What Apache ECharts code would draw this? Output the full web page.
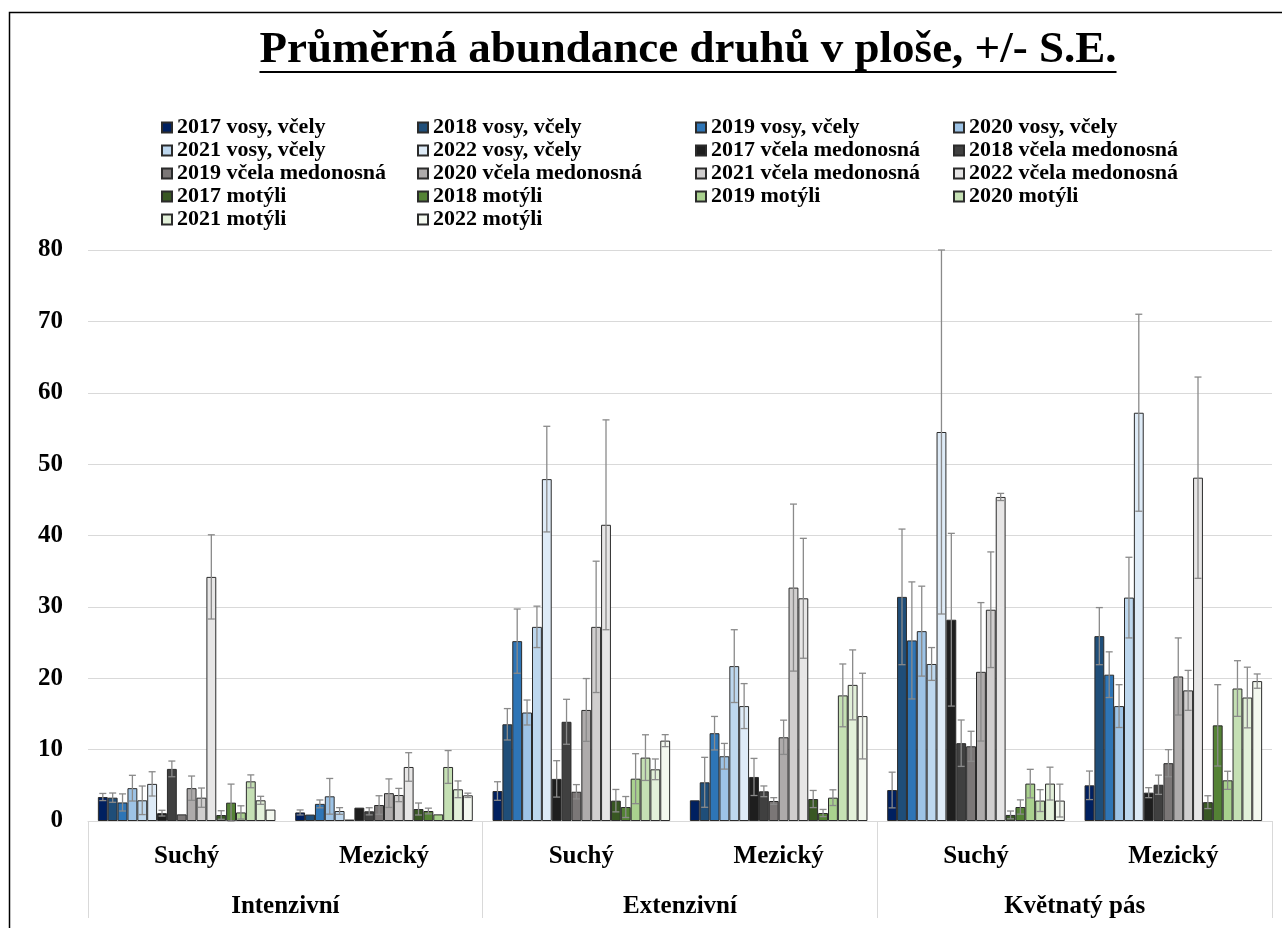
<!DOCTYPE html>
<html lang="cs">
<head>
<meta charset="utf-8">
<title>Průměrná abundance druhů v ploše</title>
<script src="https://cdn.jsdelivr.net/npm/echarts@6/dist/echarts.min.js"></script>
<style>
  html, body { margin: 0; padding: 0; background: #fff; }
  #chart { width: 1282px; height: 928px; }
</style>
</head>
<body>
<div id="chart"></div>
<script>
// Sites (inner level) and management types (outer level)
const sites = ['Suchý', 'Mezický', 'Suchý', 'Mezický', 'Suchý', 'Mezický'];
const managements = ['Intenzivní', 'Extenzivní', 'Květnatý pás'];
const yTicks = { min: 0, max: 80, step: 10 };

// Mean abundance per series, in site order:
// Intenzivní Suchý, Intenzivní Mezický, Extenzivní Suchý, Extenzivní Mezický, Květnatý pás Suchý, Květnatý pás Mezický
const vosy2017 = [3.36, 1.2, 4.2, 2.9, 4.34, 5.0];
const vosy2018 = [3.27, 0.9, 13.55, 5.42, 31.4, 25.9];
const vosy2019 = [2.6, 2.4, 25.2, 12.3, 25.3, 20.5];
const vosy2020 = [4.6, 3.46, 15.2, 9.07, 26.6, 16.1];
const vosy2021 = [2.9, 1.4, 27.2, 21.7, 22.0, 31.3];
const vosy2022 = [5.2, 0.2, 47.9, 16.1, 54.5, 57.2];
const medo2017 = [1.1, 1.87, 5.9, 6.17, 28.2, 3.97];
const medo2018 = [7.3, 1.36, 13.9, 4.16, 10.9, 5.08];
const medo2019 = [0.93, 2.24, 4.1, 2.8, 10.47, 8.1];
const medo2020 = [4.6, 3.9, 15.56, 11.73, 20.9, 20.25];
const medo2021 = [3.27, 3.64, 27.2, 32.7, 29.6, 18.3];
const medo2022 = [34.2, 7.57, 41.5, 31.2, 45.4, 48.1];
const mot2017 = [0.84, 1.68, 2.85, 3.08, 0.85, 2.64];
const mot2018 = [2.57, 1.4, 1.96, 1.12, 1.96, 13.4];
const mot2019 = [1.2, 0.93, 5.93, 3.27, 5.24, 5.7];
const mot2020 = [5.56, 7.57, 8.88, 17.6, 2.86, 18.56];
const mot2021 = [2.9, 4.44, 7.24, 19.07, 5.24, 17.3];
const mot2022 = [1.6, 3.6, 11.26, 14.7, 2.86, 19.6];

// Standard errors (null = no error bar)
const vosy2017SE = [0.5, 0.35, 1.3, null, 2.5, 2.0];
const vosy2018SE = [0.65, null, 2.2, 3.5, 9.5, 4.0];
const vosy2019SE = [1.2, 0.55, 4.5, 2.35, 8.2, 3.2];
const vosy2020SE = [1.8, 2.5, 1.75, 1.8, 6.3, 3.0];
const vosy2021SE = [2.0, 0.47, 2.9, 5.1, 2.3, 5.65];
const vosy2022SE = [1.7, null, 7.4, 3.15, 25.5, 13.8];
const medo2017SE = [0.4, null, 2.55, 2.6, 12.1, 0.7];
const medo2018SE = [1.1, 0.5, 3.15, 0.75, 3.25, 1.35];
const medo2019SE = [null, 1.3, 1.0, 0.47, 2.1, 1.9];
const medo2020SE = [1.7, 2.0, 4.4, 2.4, 9.7, 5.4];
const medo2021SE = [1.35, 0.93, 9.2, 11.7, 8.1, 2.8];
const medo2022SE = [5.9, 2.0, 14.7, 8.4, 0.5, 14.1];
const mot2017SE = [0.6, 0.84, 1.57, 1.2, 0.55, 0.9];
const mot2018SE = [2.6, 0.4, 1.47, 0.5, 1.0, 5.7];
const mot2019SE = [0.93, null, 3.5, 1.1, 2.0, 1.27];
const mot2020SE = [0.9, 2.3, 3.2, 4.4, 1.53, 3.9];
const mot2021SE = [0.56, 1.17, 1.45, 4.9, 2.3, 4.25];
const mot2022SE = [null, 0.3, 0.84, 6.0, 2.3, 1.0];

const seriesNames = [
  '2017 vosy, včely', '2018 vosy, včely', '2019 vosy, včely', '2020 vosy, včely', '2021 vosy, včely', '2022 vosy, včely',
  '2017 včela medonosná', '2018 včela medonosná', '2019 včela medonosná', '2020 včela medonosná', '2021 včela medonosná', '2022 včela medonosná',
  '2017 motýli', '2018 motýli', '2019 motýli', '2020 motýli', '2021 motýli', '2022 motýli'
];
const seriesMeans = [vosy2017, vosy2018, vosy2019, vosy2020, vosy2021, vosy2022,
  medo2017, medo2018, medo2019, medo2020, medo2021, medo2022,
  mot2017, mot2018, mot2019, mot2020, mot2021, mot2022];
const seriesSE = [vosy2017SE, vosy2018SE, vosy2019SE, vosy2020SE, vosy2021SE, vosy2022SE,
  medo2017SE, medo2018SE, medo2019SE, medo2020SE, medo2021SE, medo2022SE,
  mot2017SE, mot2018SE, mot2019SE, mot2020SE, mot2021SE, mot2022SE];
const seriesColors = [
  '#002060', '#1F4E79', '#2E75B6', '#9DC3E6', '#BDD7EE', '#DEEBF7',
  '#1E1E1E', '#404040', '#7B7777', '#AEABAB', '#D0CECE', '#E7E6E6',
  '#385723', '#548235', '#A9D18E', '#C5E0B4', '#E2F0D9', '#F3F8EF'
];

const FONT = '"Liberation Serif", "Times New Roman", serif';
const CAT_GAP = 0.10; // share of each category left empty
const nSeries = seriesNames.length;

// Bars
const barSeries = seriesNames.map((name, i) => ({
  name: name,
  type: 'bar',
  xAxisIndex: 0,
  barGap: '0%',
  barCategoryGap: (CAT_GAP * 100) + '%',
  data: seriesMeans[i],
  itemStyle: { color: seriesColors[i], borderColor: '#2b2b2b', borderWidth: 1 },
  emphasis: { disabled: true },
  z: 2
}));

// Error bar records: [site index, series index, low, high]
const errData = [];
seriesMeans.forEach((vals, si) => {
  vals.forEach((v, ci) => {
    const se = seriesSE[si][ci];
    if (se == null) return;
    errData.push([ci, si, Math.max(yTicks.min, v - se), Math.min(yTicks.max, v + se)]);
  });
});

function renderErrorBar(params, api) {
  const ci = api.value(0);
  const si = api.value(1);
  const band = api.size([1, 0])[0];
  const center = api.coord([ci, 0])[0];
  const bw = band * (1 - CAT_GAP) / nSeries;
  const x = center - band * (1 - CAT_GAP) / 2 + (si + 0.5) * bw;
  const yLo = api.coord([ci, api.value(2)])[1];
  const yHi = api.coord([ci, api.value(3)])[1];
  const half = 3.5;
  const style = { stroke: '#8a8a8a', lineWidth: 1.3 };
  return {
    type: 'group',
    children: [
      { type: 'line', shape: { x1: x, y1: yLo, x2: x, y2: yHi }, style: style },
      { type: 'line', shape: { x1: x - half, y1: yHi, x2: x + half, y2: yHi }, style: style },
      { type: 'line', shape: { x1: x - half, y1: yLo, x2: x + half, y2: yLo }, style: style }
    ]
  };
}

// Legend laid out in four columns, filled row by row
const legendCols = [[], [], [], []];
seriesNames.forEach((n, i) => legendCols[i % 4].push(n));
const legendLeft = [161, 417, 695, 953];
const legends = legendCols.map((names, c) => ({
  data: names,
  orient: 'vertical',
  left: legendLeft[c],
  top: 116,
  padding: 0,
  itemGap: 0,
  itemWidth: 10,
  itemHeight: 10,
  icon: 'rect',
  selectedMode: false,
  textStyle: { fontFamily: FONT, fontWeight: 'bold', fontSize: 22, color: '#000', lineHeight: 23 }
}));

// Title text with underline
const titleText = 'Průměrná abundance druhů v ploše, +/- S.E.';
const titleSize = 45;
const titleX = 688;
const titleMid = 50;
const meas = document.createElement('canvas').getContext('2d');
meas.font = 'bold ' + titleSize + 'px ' + FONT;
const titleW = meas.measureText(titleText).width;

const chart = echarts.init(document.getElementById('chart'), null, { renderer: 'canvas' });
chart.setOption({
  animation: false,
  backgroundColor: '#fff',
  grid: { left: 88, right: 10, top: 250, bottom: 107, containLabel: false },
  legend: legends,
  xAxis: [
    {
      type: 'category',
      data: sites,
      position: 'bottom',
      axisLine: { show: true, lineStyle: { color: '#d9d9d9', width: 1 } },
      axisTick: { show: false },
      axisLabel: { interval: 0, margin: 23, color: '#000', fontFamily: FONT, fontWeight: 'bold', fontSize: 25 }
    },
    {
      type: 'category',
      data: managements,
      position: 'bottom',
      axisLine: { show: false },
      axisTick: { show: true, length: 97, interval: 0, lineStyle: { color: '#d9d9d9', width: 1 } },
      axisLabel: { interval: 0, margin: 73, color: '#000', fontFamily: FONT, fontWeight: 'bold', fontSize: 25 }
    }
  ],
  yAxis: {
    type: 'value',
    min: yTicks.min,
    max: yTicks.max,
    interval: yTicks.step,
    axisLine: { show: false },
    axisTick: { show: false },
    splitLine: { lineStyle: { color: '#d9d9d9', width: 1 } },
    axisLabel: { margin: 25, color: '#000', fontFamily: FONT, fontWeight: 'bold', fontSize: 25 }
  },
  series: barSeries.concat([{
    type: 'custom',
    name: 'S.E.',
    xAxisIndex: 0,
    renderItem: renderErrorBar,
    encode: { x: 0, y: [2, 3] },
    data: errData,
    silent: true,
    z: 5
  }]),
  graphic: [
    {
      type: 'rect',
      shape: { x: 9.5, y: 12.5, width: 1300, height: 1000 },
      style: { fill: 'none', stroke: '#000', lineWidth: 1.5 },
      silent: true,
      z: -1
    },
    {
      type: 'text',
      x: titleX,
      y: titleMid,
      style: {
        text: titleText,
        fontFamily: FONT,
        fontWeight: 'bold',
        fontSize: titleSize,
        fill: '#000',
        textAlign: 'center',
        textVerticalAlign: 'middle'
      },
      silent: true
    },
    {
      type: 'line',
      shape: { x1: titleX - titleW / 2, y1: 72, x2: titleX + titleW / 2, y2: 72 },
      style: { stroke: '#000', lineWidth: 2 },
      silent: true
    }
  ]
});
</script>
</body>
</html>
